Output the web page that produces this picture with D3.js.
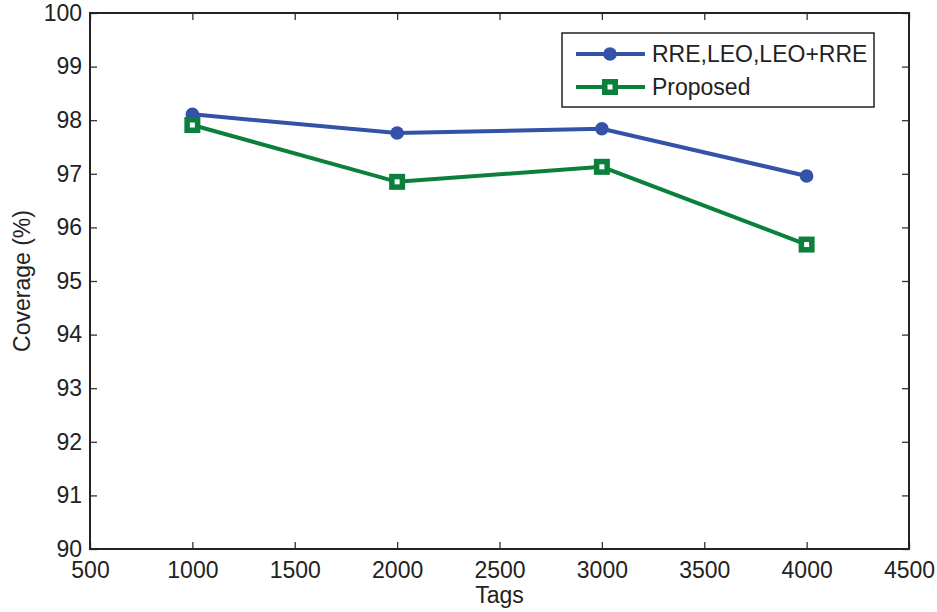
<!DOCTYPE html>
<html>
<head>
<meta charset="utf-8">
<script src="https://cdn.jsdelivr.net/npm/d3@7"></script>
<style>
  html, body { margin: 0; padding: 0; background: #fff; }
  svg { display: block; font-family: "Liberation Sans", Arial, Helvetica, sans-serif; }
</style>
</head>
<body>
<svg id="chart" width="937" height="612"></svg>
<script>
// Tag counts on the x axis
const tags = [1000, 2000, 3000, 4000];
// Coverage (%) for each method
const coverageBaseline = [98.11, 97.76, 97.84, 96.96];
const coverageProposed = [97.91, 96.85, 97.13, 95.68];
// Axis ticks
const xTicks = [500, 1000, 1500, 2000, 2500, 3000, 3500, 4000, 4500];
const yTicks = [90, 91, 92, 93, 94, 95, 96, 97, 98, 99, 100];
const seriesNames = ["RRE,LEO,LEO+RRE", "Proposed"];

const blue = "#3352a8";
const green = "#0b7f3c";

const svg = d3.select("#chart");
const margin = { left: 90, right: 28, top: 13, bottom: 63 };
const W = 937, H = 612;

const x = d3.scaleLinear().domain([500, 4500]).range([margin.left, W - margin.right]);
const y = d3.scaleLinear().domain([90, 100]).range([H - margin.bottom, margin.top]);

const fs = 23;
const tickLen = 7;

// Mirrored inward ticks on all four sides
const axBottom = d3.axisBottom(x).tickValues(xTicks).tickSize(-tickLen).tickPadding(13).tickFormat(d3.format("d"));
const axTop = d3.axisTop(x).tickValues(xTicks).tickSize(-tickLen).tickFormat("");
const axLeft = d3.axisLeft(y).tickValues(yTicks).tickSize(-tickLen).tickPadding(8).tickFormat(d3.format("d"));
const axRight = d3.axisRight(y).tickValues(yTicks).tickSize(-tickLen).tickFormat("");

function style(g) {
  g.select(".domain").remove();
  g.selectAll(".tick line").attr("stroke", "#333").attr("stroke-width", 1.3);
  g.selectAll(".tick text").attr("fill", "#222").style("font-size", fs + "px");
}

svg.append("g").attr("transform", `translate(0,${y(90)})`).call(axBottom).call(style);
svg.append("g").attr("transform", `translate(0,${y(100)})`).call(axTop).call(style);
svg.append("g").attr("transform", `translate(${x(500)},0)`).call(axLeft).call(style);
svg.append("g").attr("transform", `translate(${x(4500)},0)`).call(axRight).call(style);

// Plot frame
svg.append("rect")
  .attr("x", x(500)).attr("y", y(100))
  .attr("width", x(4500) - x(500)).attr("height", y(90) - y(100))
  .attr("fill", "none").attr("stroke", "#222").attr("stroke-width", 2);

// Axis titles
svg.append("text")
  .attr("x", (x(500) + x(4500)) / 2).attr("y", 603)
  .attr("text-anchor", "middle").attr("fill", "#222")
  .style("font-size", fs + "px").text("Tags");
svg.append("text")
  .attr("transform", `translate(30,${(y(90) + y(100)) / 2}) rotate(-90)`)
  .attr("text-anchor", "middle").attr("fill", "#222")
  .style("font-size", fs + "px").text("Coverage (%)");

const line = d3.line().x(d => x(d[0])).y(d => y(d[1]));
const baseData = tags.map((t, i) => [t, coverageBaseline[i]]);
const propData = tags.map((t, i) => [t, coverageProposed[i]]);

svg.append("path").datum(baseData).attr("d", line)
  .attr("fill", "none").attr("stroke", blue).attr("stroke-width", 4);
svg.append("path").datum(propData).attr("d", line)
  .attr("fill", "none").attr("stroke", green).attr("stroke-width", 4);

function circleMarker(g, cx, cy) {
  g.append("circle").attr("cx", cx).attr("cy", cy).attr("r", 6.8).attr("fill", blue);
}
function squareMarker(g, cx, cy) {
  const s = 10.5;
  g.append("rect").attr("x", cx - s / 2).attr("y", cy - s / 2).attr("width", s).attr("height", s)
    .attr("fill", "#fff").attr("stroke", green).attr("stroke-width", 5.5);
}

const marks = svg.append("g");
baseData.forEach(d => circleMarker(marks, x(d[0]), y(d[1])));
propData.forEach(d => squareMarker(marks, x(d[0]), y(d[1])));

// Legend
const lg = svg.append("g");
const lx = 562, ly = 33, lw = 312, lh = 74;
lg.append("rect").attr("x", lx).attr("y", ly).attr("width", lw).attr("height", lh)
  .attr("fill", "#fff").attr("stroke", "#222").attr("stroke-width", 1.5);
const rows = [
  { name: seriesNames[0], color: blue, cy: 54, marker: circleMarker },
  { name: seriesNames[1], color: green, cy: 87, marker: squareMarker }
];
rows.forEach(r => {
  lg.append("line").attr("x1", 576).attr("x2", 645).attr("y1", r.cy).attr("y2", r.cy)
    .attr("stroke", r.color).attr("stroke-width", 4);
  r.marker(lg, 610, r.cy);
  lg.append("text").attr("x", 652).attr("y", r.cy).attr("dy", "0.36em")
    .attr("fill", "#222").style("font-size", fs + "px").text(r.name);
});
</script>
</body>
</html>
